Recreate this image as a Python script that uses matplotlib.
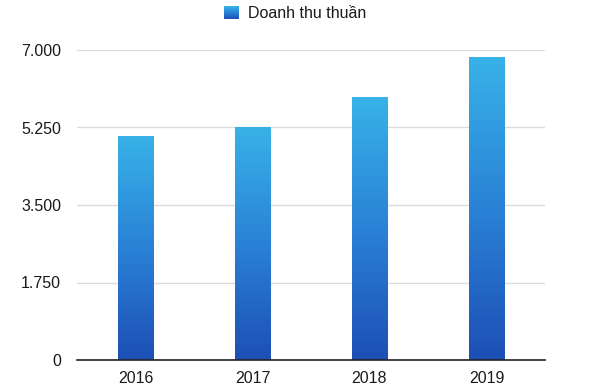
import matplotlib
matplotlib.use("Agg")
import matplotlib.pyplot as plt
import numpy as np
from matplotlib.colors import LinearSegmentedColormap
from matplotlib.ticker import FuncFormatter, FixedLocator

years = ["2016", "2017", "2018", "2019"]
revenue = [5060, 5270, 5930, 6850]
y_ticks = [0, 1750, 3500, 5250, 7000]
series_name = "Doanh thu thuần"

plt.rcParams['font.family'] = ['Liberation Sans', 'DejaVu Sans']

cmap = LinearSegmentedColormap.from_list("g", ["#1d4fb5", "#2a82d6", "#38b2e8"])

fig = plt.figure(figsize=(6, 3.9), dpi=100)
ax = fig.add_axes([77/600, 30/390, 468/600, 310/390])

x = np.arange(len(years))
bars = ax.bar(x, revenue, width=0.3, color="none", edgecolor="none", zorder=3)

grad = np.linspace(0, 1, 256).reshape(-1, 1)
for b, v in zip(bars, revenue):
    x0 = b.get_x()
    w = b.get_width()
    im = ax.imshow(grad, cmap=cmap, origin="lower", aspect="auto",
                   extent=[x0, x0 + w, 0, v], vmin=0, vmax=1, zorder=3,
                   interpolation="bilinear")
    im.set_clip_path(b)
ax.set_xlim(-0.5, len(years) - 0.5)
ax.set_ylim(0, 7000)

ax.yaxis.set_major_locator(FixedLocator(y_ticks))
ax.yaxis.set_major_formatter(FuncFormatter(lambda v, p: f"{int(v):,}".replace(",", ".")))
ax.set_xticks(x)
ax.set_xticklabels(years)
ax.tick_params(axis="both", length=0, labelsize=11.5, colors="#1a1a1a")
ax.tick_params(axis="y", pad=11.5)
ax.tick_params(axis="x", pad=8)
ax.grid(axis="y", color="#dcdcdc", linewidth=1, zorder=0)
ax.set_axisbelow(True)
for s in ["left", "right", "top"]:
    ax.spines[s].set_visible(False)
ax.spines["bottom"].set_color("#222222")
ax.spines["bottom"].set_linewidth(1.2)
ax.spines["bottom"].set_zorder(4)

# legend
lax = fig.add_axes([224/600, 1 - 19/390, 15/600, 13/390])
lax.imshow(np.linspace(0, 1, 64).reshape(-1, 1), cmap=cmap, origin="lower",
           aspect="auto", vmin=0, vmax=1)
lax.set_axis_off()
fig.text(248/600, 1 - 13/390, series_name, fontsize=11.5, va="center", ha="left",
         color="#1a1a1a")

fig.savefig("out.png", dpi=100)
